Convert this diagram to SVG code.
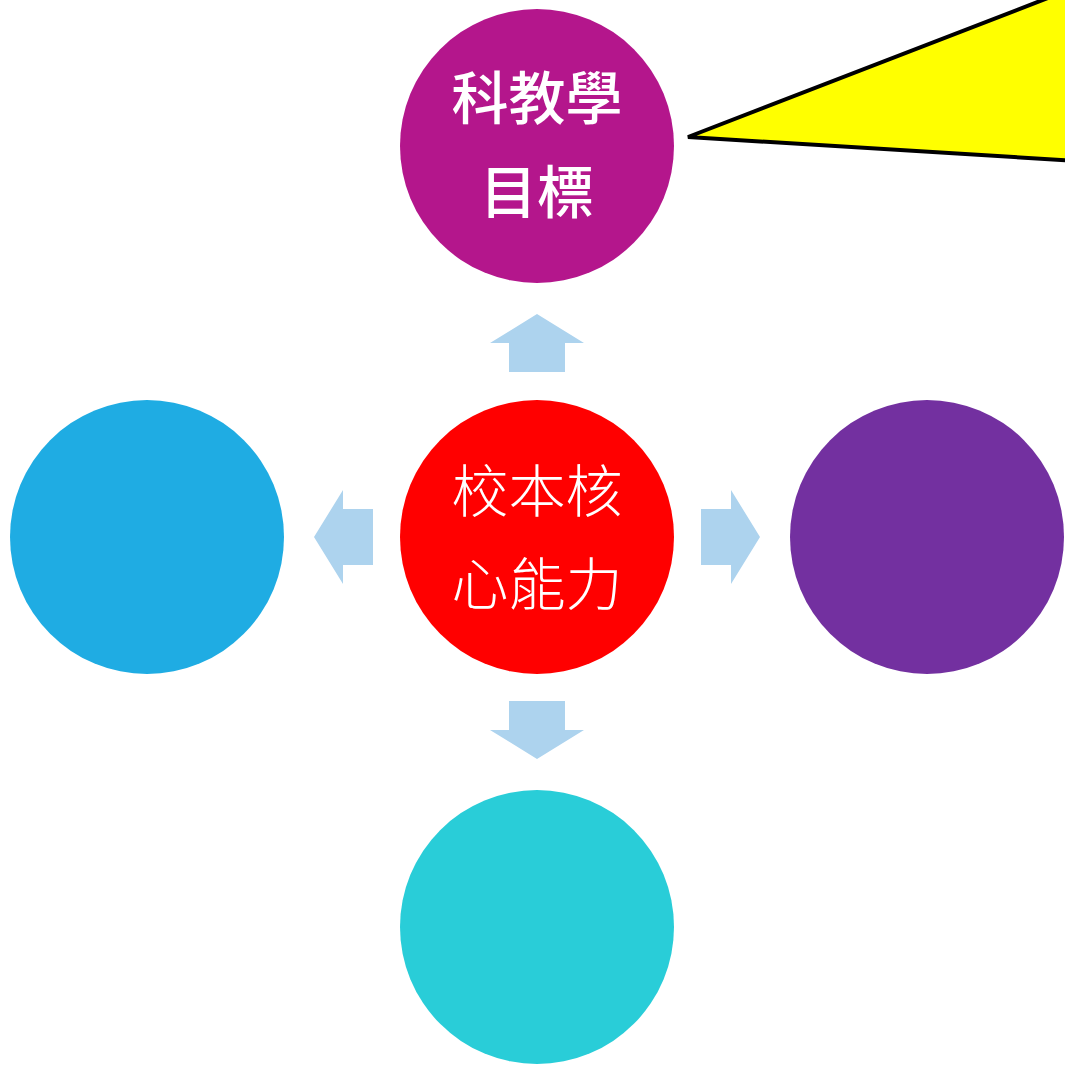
<svg xmlns="http://www.w3.org/2000/svg" width="1065" height="1067" viewBox="0 0 1065 1067">
<style>
.t{font-family:"Noto Sans CJK TC","Noto Sans CJK SC",sans-serif;font-size:57px;fill:#fff;text-anchor:middle}
.b{font-weight:500}
.l{font-weight:300}
.arr{fill:#ADD3EE}
</style>
<rect width="1065" height="1067" fill="#fff"/>
<g id="callout">
<path d="M1110,-26 L688,137 L1110,163 Z" fill="#FFFF00" stroke="#000" stroke-width="4" stroke-linejoin="miter"/>
</g>
<g id="connectors">
<polygon class="arr" points="537,314 584,343 565,343 565,372 509,372 509,343 490,343"/>
<polygon class="arr" points="537,759 584,730 565,730 565,701 509,701 509,730 490,730"/>
<polygon class="arr" points="314,537 343,490 343,509 373,509 373,565 343,565 343,584"/>
<polygon class="arr" points="760,537 731,490 731,509 701,509 701,565 731,565 731,584"/>
</g>
<g id="node-top">
<circle cx="537" cy="146" r="137" fill="#B4168C"/>
<text class="t b" x="537" y="119">科教學</text>
<text class="t b" x="537" y="213">目標</text>
</g>
<g id="node-center">
<circle cx="537" cy="537" r="137" fill="#FF0000"/>
<text class="t l" x="537" y="512">校本核</text>
<text class="t l" x="537" y="605">心能力</text>
</g>
<g id="node-left">
<circle cx="147" cy="537" r="137" fill="#1FACE3"/>
</g>
<g id="node-right">
<circle cx="927" cy="537" r="137" fill="#7330A0"/>
</g>
<g id="node-bottom">
<circle cx="537" cy="927" r="137" fill="#29CDD8"/>
</g>
</svg>
